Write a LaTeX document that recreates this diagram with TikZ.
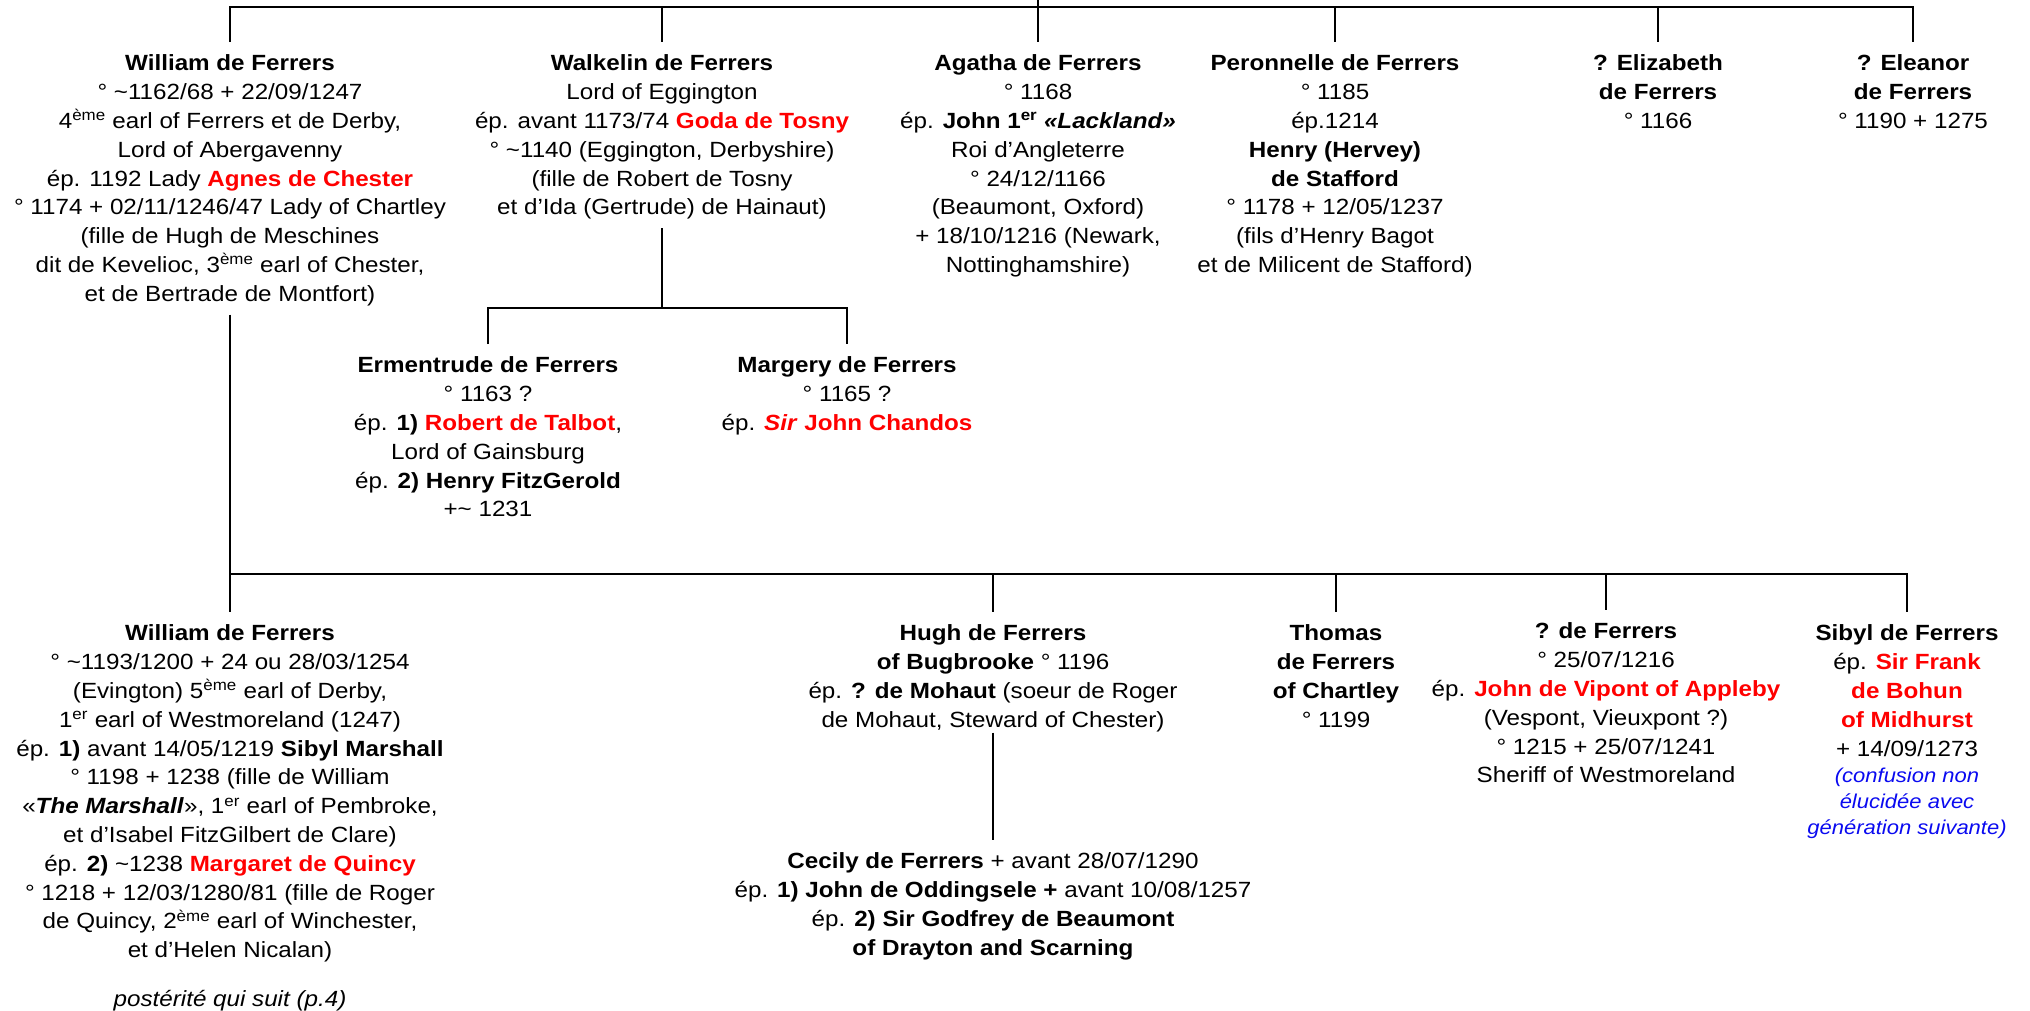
\documentclass[tikz,border=0pt]{standalone}
\usepackage{fontspec}
\setmainfont{Liberation Sans}[FakeStretch=1.1]
\usepackage{xcolor}
\definecolor{namered}{RGB}{255,0,0}
\definecolor{noteblue}{RGB}{10,10,240}
\newcommand{\redname}[1]{\textcolor{namered}{\textbf{#1}}}
\newcommand{\bluenote}[1]{{\fontsize{20}{26}\selectfont\itshape\textcolor{noteblue}{#1}}}

\begin{document}
\begin{tikzpicture}[x=1pt, y=-1pt,
    barstyle/.style={line width=2.6pt, black},
    personstyle/.style={align=center, anchor=north, inner xsep=0pt, inner ysep=8.5pt,
      font=\fontsize{22}{28.8}\selectfont}]
  \useasboundingbox (0,0) rectangle (2030,1010);
  % junction points of the bars
  \coordinate (root) at (1038,-3);
  \coordinate (topbar) at (1038,7);
  \coordinate (wkbar) at (662,308);
  \coordinate (gen2bar) at (230,574);
  % first generation
  \node[personstyle] (william) at (230,42) {\strut\textbf{William de Ferrers}\\
    ° \textasciitilde1162/68 + 22/09/1247\\
    4\textsuperscript{ème} earl of Ferrers et de Derby,\\
    Lord of Abergavenny\\
    ép. 1192 Lady \redname{Agnes de Chester}\\
    ° 1174 + 02/11/1246/47 Lady of Chartley\\
    (fille de Hugh de Meschines\\
    dit de Kevelioc, 3\textsuperscript{ème} earl of Chester,\\
    et de Bertrade de Montfort)};
  \node[personstyle] (walkelin) at (662,42) {\strut\textbf{Walkelin de Ferrers}\\
    Lord of Eggington\\
    ép. avant 1173/74 \redname{Goda de Tosny}\\
    ° \textasciitilde1140 (Eggington, Derbyshire)\\
    (fille de Robert de Tosny\\
    et d’Ida (Gertrude) de Hainaut)};
  \node[personstyle] (agatha) at (1038,42) {\strut\textbf{Agatha de Ferrers}\\
    ° 1168\\
    ép. \textbf{John 1\textsuperscript{er} \textit{«Lackland»}}\\
    Roi d’Angleterre\\
    ° 24/12/1166\\
    (Beaumont, Oxford)\\
    + 18/10/1216 (Newark,\\
    Nottinghamshire)};
  \node[personstyle] (peronnelle) at (1335,42) {\strut\textbf{Peronnelle de Ferrers}\\
    ° 1185\\
    ép.1214\\
    \textbf{Henry (Hervey)}\\
    \textbf{de Stafford}\\
    ° 1178 + 12/05/1237\\
    (fils d’Henry Bagot\\
    et de Milicent de Stafford)};
  \node[personstyle] (elizabeth) at (1658,42) {\strut\textbf{? Elizabeth}\\
    \textbf{de Ferrers}\\
    ° 1166};
  \node[personstyle] (eleanor) at (1913,42) {\strut\textbf{? Eleanor}\\
    \textbf{de Ferrers}\\
    ° 1190 + 1275};
  % children of Walkelin
  \node[personstyle] (ermentrude) at (488,344) {\strut\textbf{Ermentrude de Ferrers}\\
    ° 1163 ?\\
    ép. \textbf{1)} \redname{Robert de Talbot},\\
    Lord of Gainsburg\\
    ép. \textbf{2) Henry FitzGerold}\\
    +\textasciitilde{} 1231};
  \node[personstyle] (margery) at (847,344) {\strut\textbf{Margery de Ferrers}\\
    ° 1165 ?\\
    ép. \redname{\textit{Sir} John Chandos}};
  % children of William
  \node[personstyle] (william2) at (230,612) {\strut\textbf{William de Ferrers}\\
    ° \textasciitilde1193/1200 + 24 ou 28/03/1254\\
    (Evington) 5\textsuperscript{ème} earl of Derby,\\
    1\textsuperscript{er} earl of Westmoreland (1247)\\
    ép. \textbf{1)} avant 14/05/1219 \textbf{Sibyl Marshall}\\
    ° 1198 + 1238 (fille de William\\
    «\textbf{\textit{The Marshall}}», 1\textsuperscript{er} earl of Pembroke,\\
    et d’Isabel FitzGilbert de Clare)\\
    ép. \textbf{2)} \textasciitilde1238 \redname{Margaret de Quincy}\\
    ° 1218 + 12/03/1280/81 (fille de Roger\\
    de Quincy, 2\textsuperscript{ème} earl of Winchester,\\
    et d’Helen Nicalan)\\[20.4pt]
    \textit{postérité qui suit (p.4)}};
  \node[personstyle] (hugh) at (993,612) {\strut\textbf{Hugh de Ferrers}\\
    \textbf{of Bugbrooke} ° 1196\\
    ép. \textbf{? de Mohaut} (soeur de Roger\\
    de Mohaut, Steward of Chester)};
  \node[personstyle] (thomas) at (1336,612) {\strut\textbf{Thomas}\\
    \textbf{de Ferrers}\\
    \textbf{of Chartley}\\
    ° 1199};
  \node[personstyle] (unknown) at (1606,610) {\strut\textbf{? de Ferrers}\\
    ° 25/07/1216\\
    ép. \redname{John de Vipont of Appleby}\\
    (Vespont, Vieuxpont ?)\\
    ° 1215 + 25/07/1241\\
    Sheriff of Westmoreland};
  \node[personstyle] (sibyl) at (1907,612) {\strut\textbf{Sibyl de Ferrers}\\
    ép. \redname{Sir Frank}\\
    \redname{de Bohun}\\
    \redname{of Midhurst}\\
    + 14/09/1273\\[-2.8pt]
    \bluenote{(confusion non}\\[-2.8pt]
    \bluenote{élucidée avec}\\[-2.8pt]
    \bluenote{génération suivante)}};
  \node[personstyle] (cecily) at (993,840) {\strut\textbf{Cecily de Ferrers} + avant 28/07/1290\\
    ép. \textbf{1) John de Oddingsele +} avant 10/08/1257\\
    ép. \textbf{2) Sir Godfrey de Beaumont}\\
    \textbf{of Drayton and Scarning}};
  % top bar and drops
  \draw[barstyle] (william.north) -- (william.north |- topbar) -- (eleanor.north |- topbar) -- (eleanor.north);
  \draw[barstyle] (root) -- (agatha.north);
  \draw[barstyle] (walkelin.north |- topbar) -- (walkelin.north);
  \draw[barstyle] (peronnelle.north |- topbar) -- (peronnelle.north);
  \draw[barstyle] (elizabeth.north |- topbar) -- (elizabeth.north);
  % Walkelin to his daughters
  \draw[barstyle] (walkelin.south) -- (wkbar);
  \draw[barstyle] (ermentrude.north) -- (ermentrude.north |- wkbar) -- (margery.north |- wkbar) -- (margery.north);
  % William to his children
  \draw[barstyle] (william.south) -- (william2.north);
  \draw[barstyle] (gen2bar) -- (sibyl.north |- gen2bar) -- (sibyl.north);
  \draw[barstyle] (hugh.north |- gen2bar) -- (hugh.north);
  \draw[barstyle] (thomas.north |- gen2bar) -- (thomas.north);
  \draw[barstyle] (unknown.north |- gen2bar) -- (unknown.north);
  % Hugh to Cecily
  \draw[barstyle] ([yshift=8pt]hugh.south) -- (cecily.north);
\end{tikzpicture}
\end{document}
